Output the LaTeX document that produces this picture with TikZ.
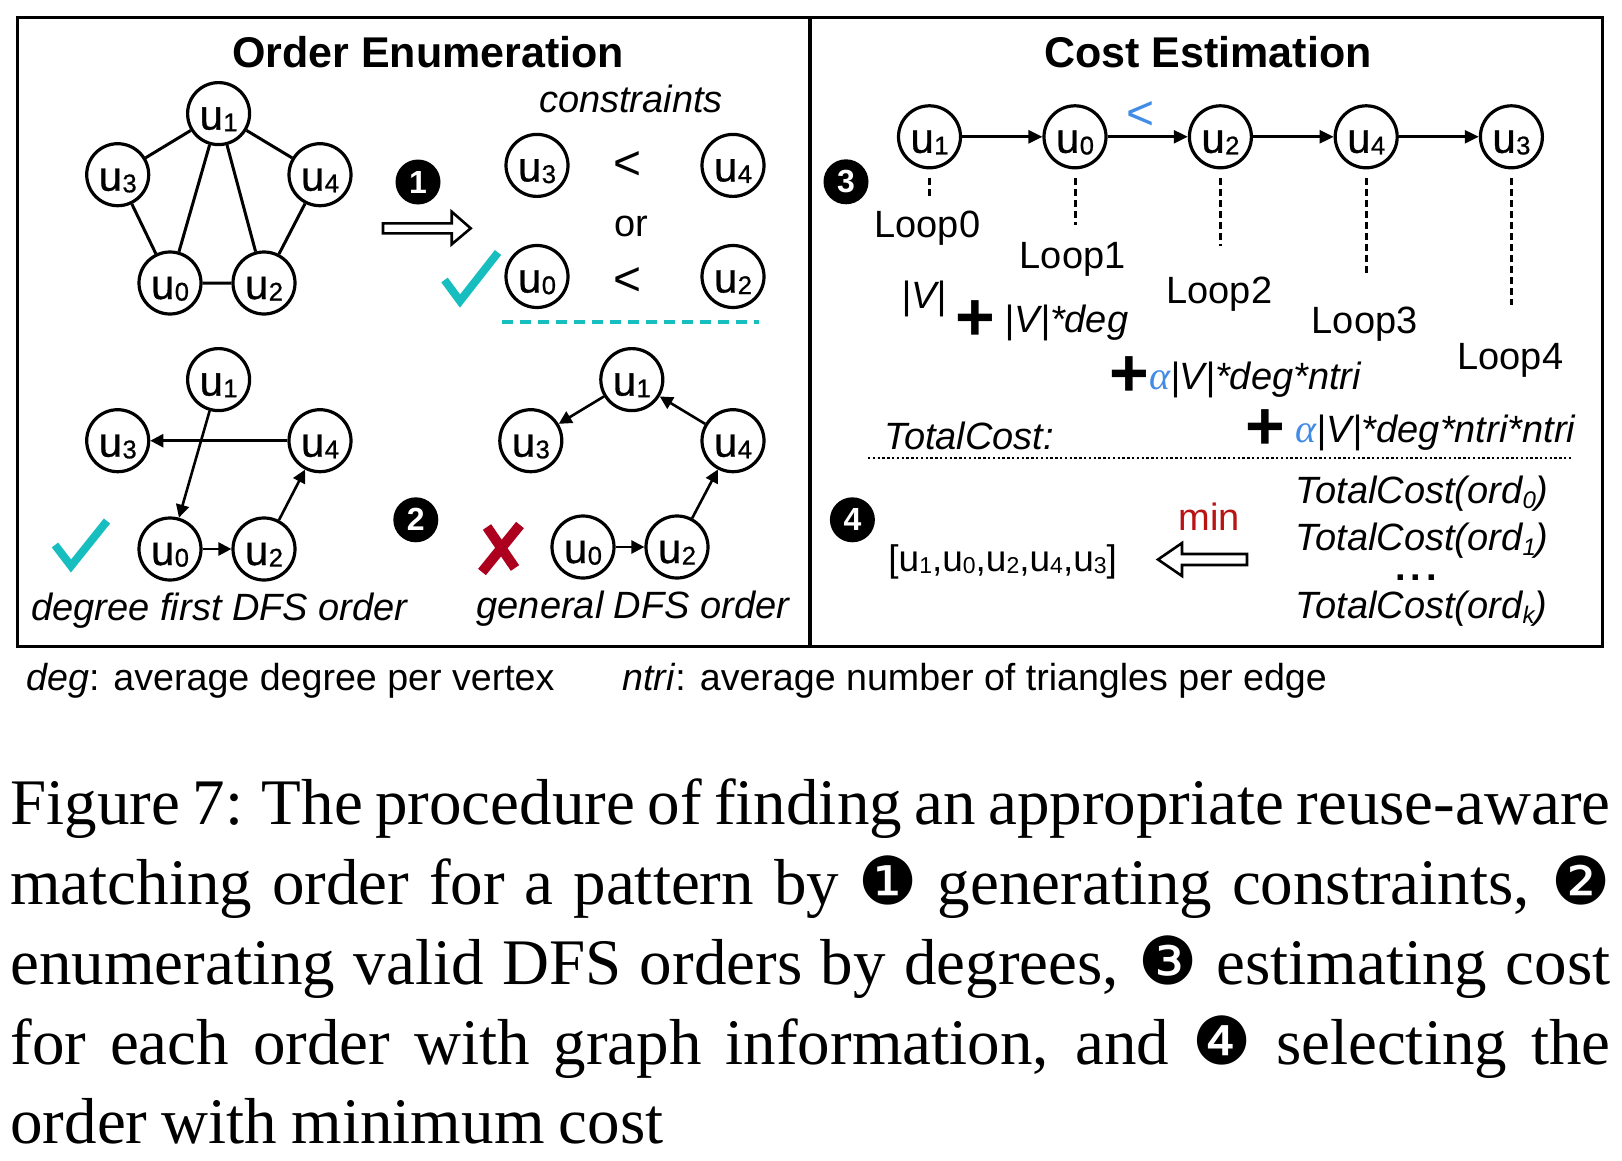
\documentclass[tikz,border=0pt]{standalone}
\usepackage{fontspec}
\setmainfont{Liberation Serif}
\setsansfont{Liberation Sans}
\newfontfamily\djv{DejaVu Sans}
\newfontfamily\sfmed[FakeBold=0.8]{Liberation Sans}
\usetikzlibrary{arrows.meta}
\definecolor{tealck}{RGB}{22,190,192}
\definecolor{xred}{RGB}{172,0,30}
\definecolor{ablue}{RGB}{66,140,230}
\definecolor{minred}{RGB}{185,20,20}
\newcommand\tf{\sffamily\fontsize{19}{23}\selectfont}
\newcommand\tfi{\sffamily\itshape\fontsize{19}{23}\selectfont}
\newcommand\uu[1]{u\kern0.2pt\raisebox{-0.8pt}{\fontsize{12.8}{14}\selectfont #1}}
\newcommand\us[1]{u\raisebox{-0.8pt}{\fontsize{11.5}{12}\selectfont #1}}
\newcommand\sbd[1]{\raisebox{-2.5pt}{\fontsize{12}{12}\selectfont #1}}
\newcommand\alp{{\color{ablue}\rmfamily\itshape\fontsize{20}{23}\selectfont α}}
\newcommand\cnum[1]{{\djv\fontsize{33}{33}\selectfont #1}}
\newcommand\capfont{\rmfamily\fontsize{32.5}{40}\selectfont\spaceskip=0.22em plus 0.25em minus 0.08em\relax}
\begin{document}
\begin{tikzpicture}[x=0.5pt,y=-0.5pt,
  vtx/.style={circle, draw, line width=1.6pt, minimum size=31pt, inner sep=0pt,
    text height=16pt, text depth=0pt, font=\sfmed\fontsize{21}{24}\selectfont},
  badge/.style={circle, fill=black, text=white, minimum size=22.5pt, inner sep=0pt,
    font=\sffamily\bfseries\fontsize{16}{16}\selectfont},
  lbl/.style={inner sep=0pt, font=\tf},
  ilbl/.style={inner sep=0pt, font=\tfi},
  edge/.style={line width=1.5pt},
  arr/.style={line width=1.3pt, -{Triangle[length=6.5pt,width=6.5pt]}},
  carr/.style={line width=1.3pt, -{Triangle[length=7pt,width=6.5pt]}},
  vdots/.style={line width=1.5pt, dash pattern=on 3.5pt off 2pt},
  hdots/.style={line width=1.2pt, dash pattern=on 1.2pt off 1.2pt},
  tdash/.style={tealck, line width=2pt, dash pattern=on 5.5pt off 3.5pt},
  check/.style={tealck, line width=4pt, line join=miter},
  cross/.style={xred, line width=5pt},
  hollow/.style={draw, line width=1.3pt, fill=white, line join=miter},
  plus/.style={inner sep=0pt, font=\sffamily\bfseries\fontsize{34}{34}\selectfont},
  ltsym/.style={inner sep=0pt, font=\sffamily\fontsize{24}{26}\selectfont},
  title/.style={inner sep=0pt, anchor=base, font=\sffamily\bfseries\fontsize{21.5}{24}\selectfont},
  capline/.style={inner sep=0pt, anchor=base west, font=\capfont}
]
\useasboundingbox (0,0) rectangle (1622,1161);
\fill[white] (0,0) rectangle (1622,1161);

% frame
\draw[line width=1.65pt] (17.5,17.5) rectangle (1602.5,646.5);
\draw[line width=1.65pt] (810,17.5) -- (810,646.5);

% titles
\node[title] (t1) at (428,67.5) {Order Enumeration};
\node[title] (t2) at (1208,67.5) {Cost Estimation};

% ---------- top-left pattern graph
\node[vtx] (a1) at (218.6,113.6) {\uu1};
\node[vtx] (a3) at (117.7,174.7) {\uu3};
\node[vtx] (a4) at (320,174.7) {\uu4};
\node[vtx] (a0) at (170,283) {\uu0};
\node[vtx] (a2) at (264,283) {\uu2};
\draw[edge] (a1)--(a3) (a1)--(a4) (a1)--(a0) (a1)--(a2) (a3)--(a0) (a4)--(a2) (a0)--(a2);

% step 1
\node[badge] (b1) at (418,182) {1};
\draw[hollow] (383,223.3) -- (451.7,223.3) -- (451.7,211.7) -- (470.7,228.3) -- (451.7,244.3) -- (451.7,233.3) -- (383,233.3) -- cycle;

\node[ilbl, anchor=base] (cons) at (631,112.8) {constraints};
\node[vtx] (c3) at (537,165.4) {\uu3};
\node[ltsym] (lt1) at (627.6,166) {<};
\node[vtx] (c4) at (733,165.4) {\uu4};
\node[lbl, anchor=base] (orw) at (631,236.5) {or};
\node[vtx] (c0) at (537,276.5) {\uu0};
\node[ltsym] (lt2) at (627.6,282) {<};
\node[vtx] (c2) at (733,276.5) {\uu2};
\coordinate (td1) at (502,322);
\coordinate (td2) at (759,322);
\draw[tdash] (td1) -- (td2);
\draw[check] (444.5,280) -- (460,301) -- (498,252.5);

% ---------- bottom-left: degree first DFS order
\node[vtx] (d1) at (218.6,379.6) {\uu1};
\node[vtx] (d3) at (117.7,440.7) {\uu3};
\node[vtx] (d4) at (320,440.7) {\uu4};
\node[vtx] (d0) at (170,549) {\uu0};
\node[vtx] (d2) at (264,549) {\uu2};
\draw[arr] (d1) -- (d0);
\draw[arr] (d4) -- (d3);
\draw[arr] (d0) -- (d2);
\draw[arr] (d2) -- (d4);
\draw[check] (55,545) -- (71,566) -- (107,521);
\node[ilbl, anchor=base] (dfo) at (219.5,620.8) {degree first DFS order};

\node[badge] (b2) at (415.8,519.8) {2};

% ---------- bottom-right: general DFS order
\node[vtx] (e1) at (631.8,379.6) {\uu1};
\node[vtx] (e3) at (530.8,440.7) {\uu3};
\node[vtx] (e4) at (733,440.7) {\uu4};
\node[vtx] (e0) at (583,547) {\uu0};
\node[vtx] (e2) at (677,547) {\uu2};
\draw[arr] (e1) -- (e3);
\draw[arr] (e4) -- (e1);
\draw[arr] (e0) -- (e2);
\draw[arr] (e2) -- (e4);
\draw[cross] (487,527) -- (515,568);
\draw[cross] (520,525) -- (482,572);
\node[ilbl, anchor=base] (gdo) at (633,618.7) {general DFS order};

% ---------- right panel: cost estimation
\node[vtx] (g1) at (929.5,136.8) {\uu1};
\node[vtx] (g0) at (1075,136.8) {\uu0};
\node[vtx] (g2) at (1220.4,136.8) {\uu2};
\node[vtx] (g4) at (1366.2,136.8) {\uu4};
\node[vtx] (g3) at (1511.4,136.8) {\uu3};
\draw[carr] (g1) -- (g0);
\draw[carr] (g0) -- (g2);
\draw[carr] (g2) -- (g4);
\draw[carr] (g4) -- (g3);
\node[ltsym, text=ablue] (blt) at (1140.8,115.7) {<};
\node[badge] (b3) at (846,181.8) {3};

\coordinate (l1) at (929.5,198);
\coordinate (l0) at (1075,225);
\coordinate (l2) at (1220.4,246);
\coordinate (l4) at (1366.2,274);
\coordinate (l3) at (1511.4,305);
\draw[vdots] ([yshift=-4.5pt]g1.south) -- (l1);
\draw[vdots] ([yshift=-4.5pt]g0.south) -- (l0);
\draw[vdots] ([yshift=-4.5pt]g2.south) -- (l2);
\draw[vdots] ([yshift=-4.5pt]g4.south) -- (l4);
\draw[vdots] ([yshift=-4.5pt]g3.south) -- (l3);

\node[lbl, anchor=base] (loop0) at (927.4,237.8) {Loop0};
\node[lbl, anchor=base] (loop1) at (1072.6,268) {Loop1};
\node[lbl, anchor=base] (loop2) at (1219.4,303.9) {Loop2};
\node[lbl, anchor=base] (loop3) at (1364.6,333.3) {Loop3};
\node[lbl, anchor=base] (loop4) at (1510.4,369) {Loop4};

\node[ilbl, anchor=base] (v0) at (924.2,308.5) {|V|};
\node[plus] (p1) at (975.6,320.7) {+};
\node[ilbl, anchor=base west] (v1) at (1004.5,332.5) {|V|*deg};
\node[plus] (p2) at (1129,376.7) {+};
\node[ilbl, anchor=base west] (v2) at (1148.6,389.3) {\alp|V|*deg*ntri};
\node[ilbl, anchor=base west] (tc) at (884,449.5) {TotalCost:};
\node[plus] (p3) at (1265.5,429.3) {+};
\node[ilbl, anchor=base west] (v3) at (1295.4,442) {\alp|V|*deg*ntri*ntri};
\coordinate (hd1) at (868,458);
\coordinate (hd2) at (1572,458);
\draw[hdots] (hd1) -- (hd2);

% step 4
\node[badge] (b4) at (852.4,519.8) {4};
\node[inner sep=0pt, font=\sffamily\fontsize{18.5}{22}\selectfont, anchor=base west] (ord) at (888,571.7) {[\us1,\us0,\us2,\us4,\us3]};
\node[lbl, anchor=base, text=minred] (mn) at (1209,530) {min};
\draw[hollow] (1247,554) -- (1182,554) -- (1182,543) -- (1158,559.5) -- (1182,576) -- (1182,565) -- (1247,565) -- cycle;
\node[ilbl, anchor=base west] (o0) at (1295.4,503) {TotalCost(ord\sbd{0})};
\node[ilbl, anchor=base west] (o1) at (1295.4,550) {TotalCost(ord\sbd{1})};
\node[inner sep=0pt, font=\sffamily\bfseries\fontsize{19}{23}\selectfont, anchor=base] (odots) at (1416,580) {.\kern2.5pt.\kern2.5pt.};
\node[ilbl, anchor=base west] (ok) at (1295.4,618) {TotalCost(ord\sbd{k})};

% footnote
\node[inner sep=0pt, font=\sffamily\fontsize{18.8}{22}\selectfont, anchor=base west] (fn1) at (26,690) {\textit{deg}: average degree per vertex};
\node[inner sep=0pt, font=\sffamily\fontsize{18.8}{22}\selectfont, anchor=base west] (fn2) at (622,690) {\textit{ntri}: average number of triangles per edge};

% caption
\node[capline] (cap1) at (10,824) {\makebox[800pt][s]{Figure 7: The procedure of finding an appropriate reuse-aware}};
\node[capline] (cap2) at (10,904) {\makebox[800pt][s]{matching order for a pattern by \cnum{❶} generating constraints, \cnum{❷}}};
\node[capline] (cap3) at (10,984) {\makebox[800pt][s]{enumerating valid DFS orders by degrees, \cnum{❸} estimating cost}};
\node[capline] (cap4) at (10,1064) {\makebox[800pt][s]{for each order with graph information, and \cnum{❹} selecting the}};
\node[capline] (cap5) at (10,1143) {order with minimum cost};
\end{tikzpicture}
\end{document}
